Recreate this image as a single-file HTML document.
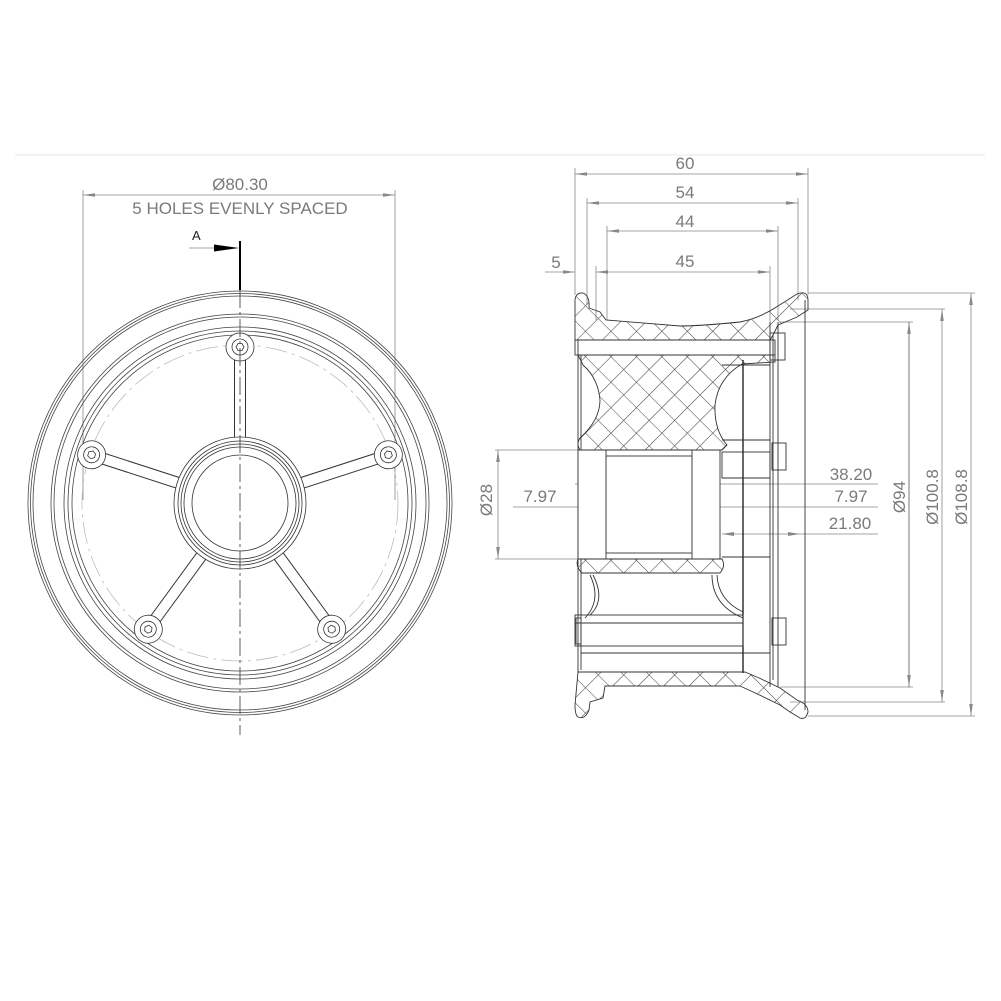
<!DOCTYPE html>
<html><head><meta charset="utf-8"><style>
html,body{margin:0;padding:0;background:#fff;}
svg{display:block;}
.t{font-family:"Liberation Sans",sans-serif;fill:#7a7a7a;font-size:17px;}
</style></head><body>
<svg width="1001" height="1001" viewBox="0 0 1001 1001" xmlns="http://www.w3.org/2000/svg">
<defs>
<pattern id="h" patternUnits="userSpaceOnUse" width="18" height="18" patternTransform="rotate(45)">
<line x1="0" y1="0" x2="0" y2="18" stroke="#444" stroke-width="1.1"/>
<line x1="0" y1="0" x2="18" y2="0" stroke="#444" stroke-width="1.1"/>
</pattern>
<marker id="a" viewBox="0 0 12 6" refX="12" refY="3" markerWidth="12" markerHeight="6" orient="auto-start-reverse" markerUnits="userSpaceOnUse"><path d="M0,1.2 L12,3 L0,4.8 Z" fill="#888"/></marker>
</defs>
<line x1="15" y1="155" x2="985" y2="155" stroke="#eee" stroke-width="1.5"/>

<!-- LEFT VIEW -->
<g fill="none" stroke="#444" stroke-width="0.8">
<line x1="83" y1="190" x2="83" y2="500" stroke="#888"/>
<line x1="395" y1="190" x2="395" y2="500" stroke="#888"/>
<line x1="83" y1="195" x2="395" y2="195" stroke="#888" marker-start="url(#a)" marker-end="url(#a)"/>
<circle cx="240" cy="503" r="212"/><circle cx="240" cy="503" r="209.5"/><circle cx="240" cy="503" r="207"/>
<circle cx="240" cy="503" r="189"/><circle cx="240" cy="503" r="186"/>
<circle cx="240" cy="503" r="176"/><circle cx="240" cy="503" r="172"/><circle cx="240" cy="503" r="168"/>
<circle cx="240" cy="503" r="158" stroke="#bbb" stroke-dasharray="22 5 3 5"/>
</g>
<g stroke-linecap="round">
<line x1="240" y1="503" x2="240" y2="347" stroke="#333" stroke-width="12"/>
<line x1="240" y1="503" x2="388" y2="455" stroke="#333" stroke-width="12"/>
<line x1="240" y1="503" x2="332" y2="629" stroke="#333" stroke-width="12"/>
<line x1="240" y1="503" x2="148" y2="629" stroke="#333" stroke-width="12"/>
<line x1="240" y1="503" x2="92" y2="455" stroke="#333" stroke-width="12"/>
<line x1="240" y1="503" x2="240" y2="347" stroke="#fff" stroke-width="10"/>
<line x1="240" y1="503" x2="388" y2="455" stroke="#fff" stroke-width="10"/>
<line x1="240" y1="503" x2="332" y2="629" stroke="#fff" stroke-width="10"/>
<line x1="240" y1="503" x2="148" y2="629" stroke="#fff" stroke-width="10"/>
<line x1="240" y1="503" x2="92" y2="455" stroke="#fff" stroke-width="10"/>
</g>
<g fill="#fff" stroke="#333" stroke-width="0.8">
<circle cx="240" cy="503" r="66"/><circle cx="240" cy="503" r="62"/><circle cx="240" cy="503" r="59"/><circle cx="240" cy="503" r="56"/><circle cx="240" cy="503" r="48"/>
<g id="b"><circle cx="240" cy="347" r="14"/><circle cx="240" cy="347" r="8"/><polygon points="244,347 242,343.5 238,343.5 236,347 238,350.5 242,350.5"/></g>
<use href="#b" transform="rotate(72 240 503)"/>
<use href="#b" transform="rotate(144 240 503)"/>
<use href="#b" transform="rotate(216 240 503)"/>
<use href="#b" transform="rotate(288 240 503)"/>
</g>
<line x1="240" y1="290" x2="240" y2="735" stroke="#333" stroke-width="0.8" stroke-dasharray="18 4 3 4"/>
<line x1="240" y1="241" x2="240" y2="290" stroke="#000" stroke-width="2"/>
<line x1="189" y1="248" x2="215" y2="248" stroke="#888" stroke-width="0.8"/>
<polygon points="214,244.5 239,248 214,251.5" fill="#000"/>
<text x="192" y="240" style="font-family:'Liberation Sans',sans-serif;font-size:13px;fill:#222">A</text>
<text class="t" x="240" y="190" text-anchor="middle">Ø80.30</text>
<text class="t" x="240" y="214" text-anchor="middle">5 HOLES EVENLY SPACED</text>

<!-- RIGHT VIEW: dimension lines -->
<g stroke="#888" stroke-width="0.8" fill="none">
<line x1="575" y1="168" x2="575" y2="295"/><line x1="808" y1="168" x2="808" y2="295"/>
<line x1="587" y1="198" x2="587" y2="305"/><line x1="798" y1="198" x2="798" y2="300"/>
<line x1="607" y1="226" x2="607" y2="320"/><line x1="778" y1="226" x2="778" y2="320"/>
<line x1="596" y1="266" x2="596" y2="320"/><line x1="770" y1="266" x2="770" y2="322"/>
<line x1="575" y1="174" x2="808" y2="174" marker-start="url(#a)" marker-end="url(#a)"/>
<line x1="587" y1="203" x2="798" y2="203" marker-start="url(#a)" marker-end="url(#a)"/>
<line x1="607" y1="231" x2="778" y2="231" marker-start="url(#a)" marker-end="url(#a)"/>
<line x1="596" y1="272" x2="770" y2="272" marker-start="url(#a)" marker-end="url(#a)"/>
<line x1="545" y1="272" x2="575" y2="272" marker-end="url(#a)"/>
<line x1="808" y1="293" x2="975" y2="293"/><line x1="808" y1="716" x2="975" y2="716"/>
<line x1="790" y1="309" x2="945" y2="309"/><line x1="790" y1="702" x2="945" y2="702"/>
<line x1="780" y1="322" x2="913" y2="322"/><line x1="780" y1="687" x2="913" y2="687"/>
<line x1="971" y1="293" x2="971" y2="716" marker-start="url(#a)" marker-end="url(#a)"/>
<line x1="942" y1="309" x2="942" y2="702" marker-start="url(#a)" marker-end="url(#a)"/>
<line x1="909" y1="322" x2="909" y2="687" stroke="#555" marker-start="url(#a)" marker-end="url(#a)"/>
<line x1="495" y1="450" x2="578" y2="450"/><line x1="495" y1="559" x2="578" y2="559"/>
<line x1="498" y1="450" x2="498" y2="559" marker-start="url(#a)" marker-end="url(#a)"/>
<line x1="513" y1="507" x2="578" y2="507"/>
<line x1="575" y1="484" x2="878" y2="484"/>
<line x1="606" y1="507" x2="878" y2="507"/>
<line x1="722" y1="534" x2="878" y2="534"/>
</g>
<g fill="#888">
<polygon points="577,484 589,482 589,486"/><polygon points="720,484 708,482 708,486"/>
<polygon points="578,507 590,505 590,509"/><polygon points="606,507 594,505 594,509"/>
<polygon points="692,507 680,505 680,509"/><polygon points="720,507 708,505 708,509"/>
<polygon points="722,534 734,532 734,536"/><polygon points="800,534 788,532 788,536"/>
</g>
<g>
<text class="t" x="685" y="169" text-anchor="middle">60</text>
<text class="t" x="685" y="198" text-anchor="middle">54</text>
<text class="t" x="685" y="227" text-anchor="middle">44</text>
<text class="t" x="685" y="267" text-anchor="middle">45</text>
<text class="t" x="556" y="268" text-anchor="middle">5</text>
<text class="t" x="540" y="502" text-anchor="middle">7.97</text>
<text class="t" x="851" y="480" text-anchor="middle">38.20</text>
<text class="t" x="851" y="502" text-anchor="middle">7.97</text>
<text class="t" x="850" y="529" text-anchor="middle">21.80</text>
<text class="t" transform="translate(492,500) rotate(-90)" text-anchor="middle">Ø28</text>
<text class="t" transform="translate(905,497) rotate(-90)" text-anchor="middle">Ø94</text>
<text class="t" transform="translate(938,497) rotate(-90)" text-anchor="middle">Ø100.8</text>
<text class="t" transform="translate(967,497) rotate(-90)" text-anchor="middle">Ø108.8</text>
</g>

<!-- RIGHT VIEW: section body -->
<g stroke="#333" stroke-width="0.9" fill="none">
<line x1="578" y1="340" x2="578" y2="672"/>
<line x1="581" y1="355" x2="581" y2="670"/>
<line x1="770" y1="322" x2="770" y2="687"/><line x1="773" y1="335" x2="773" y2="680"/>
<line x1="778" y1="322" x2="778" y2="687"/>
<line x1="805" y1="300" x2="805" y2="710"/>
<line x1="743" y1="360" x2="743" y2="673" stroke="#000" stroke-width="1.2"/>
<rect x="575" y="340" width="200" height="15"/>
<rect x="575" y="615" width="168" height="8"/>
<rect x="575" y="623" width="168" height="23"/>
<line x1="581" y1="653" x2="770" y2="653"/>
<rect x="576" y="618" width="5" height="26"/>
<rect x="770" y="333" width="15" height="27"/>
<rect x="772" y="443" width="14" height="27"/>
<rect x="772" y="618" width="14" height="27"/>
<rect x="722" y="452" width="48" height="26"/>
<line x1="722" y1="478" x2="770" y2="478"/>
<line x1="722" y1="557" x2="770" y2="557"/>
<line x1="722" y1="365" x2="770" y2="365"/>
<line x1="722" y1="440" x2="770" y2="440"/>
<path d="M590,575 Q602,600 585,618"/><path d="M593,575 Q606,600 590,615"/>
<path d="M712,575 Q712,605 743,618"/>
<path d="M717,575 Q718,600 743,612"/>
</g>
<g stroke="#333" stroke-width="0.9" fill="#fff">
<rect x="606" y="456" width="86" height="97"/>
<rect x="578" y="450" width="28" height="109"/>
<rect x="692" y="450" width="28" height="109"/>
</g>
<g fill="url(#h)" stroke="#333" stroke-width="0.9">
<path d="M575,300 Q576,292 583,293 Q590,296 589,308 L600,312 L606,320 L680,326 Q700,326 740,322 Q760,318 778,306 L797,294 Q808,290 808,300 L808,310 L797,317 L790,320 L778,325 L773,335 L770,340 L575,340 Z"/>
<path d="M578,355 L775,355 L775,362 L742,364 Q718,378 715,405 Q714,430 727,445 L722,450 L580,450 Q576,444 580,438 Q600,420 600,400 Q598,378 583,365 Z"/>
<path d="M578,559 L722,559 Q726,566 720,573 L582,573 Q575,566 578,559 Z"/>
<path d="M578,672 L745,672 Q760,678 780,688 L797,700 Q808,704 808,712 Q806,720 800,718 L790,712 L780,705 Q760,695 740,686 L605,686 L603,698 L590,702 L589,710 Q585,720 578,717 Q575,715 575,705 Z"/>
</g>
</svg>
</body></html>
